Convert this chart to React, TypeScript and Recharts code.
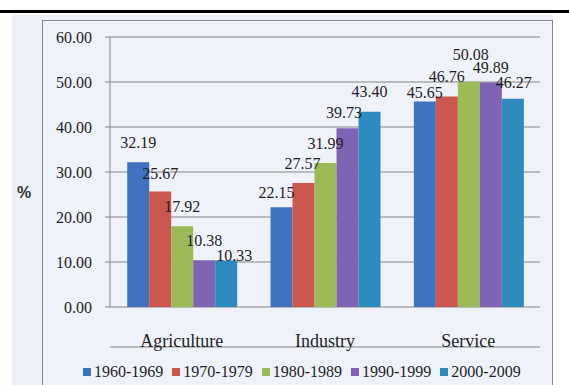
import React from 'react';
import { BarChart, Bar, XAxis, YAxis, CartesianGrid, Legend, LabelList } from 'recharts';

// Sector shares of output (%) by decade
const sectors = ['Agriculture', 'Industry', 'Service'];
const periods = ['1960-1969', '1970-1979', '1980-1989', '1990-1999', '2000-2009'];
const share1960s = [32.19, 22.15, 45.65];
const share1970s = [25.67, 27.57, 46.76];
const share1980s = [17.92, 31.99, 50.08];
const share1990s = [10.38, 39.73, 49.89];
const share2000s = [10.33, 43.4, 46.27];
const yTicks = [0, 10, 20, 30, 40, 50, 60];

const seriesValues = [share1960s, share1970s, share1980s, share1990s, share2000s];
const seriesColors = ['#3f72bf', '#cc574f', '#9cbb58', '#8064b4', '#2f8bbf'];

// Hand-placed data labels: [horizontal shift, lift above bar top] per decade, per sector
const labelNudges: [number, number][][] = [
  [[0, 19.5], [-5, 15], [0, 9]],
  [[0, 17.5], [-1, 19], [0, 20]],
  [[0, 20], [0, 19.5], [2, 27.5]],
  [[0, 19.5], [-3.5, 15.5], [0, 15]],
  [[8, 5], [0, 20], [1, 16]],
];

const data = sectors.map((sector, i) => {
  const row: Record<string, string | number> = { sector };
  periods.forEach((p, j) => {
    row[p] = seriesValues[j][i];
  });
  return row;
});

const SERIF = "'Liberation Serif', 'Times New Roman', serif";
const INK = '#1e1e1e';
const RULE = '#868686';

const makeValueLabel = (seriesIndex: number) => (props: any) => {
  const { x, y, width, value, index } = props;
  const [dx, lift] = labelNudges[seriesIndex][index];
  return (
    <text
      x={Number(x) + Number(width) / 2 + dx}
      y={Number(y) - lift}
      textAnchor="middle"
      dominantBaseline="central"
      fontFamily={SERIF}
      fontSize={16}
      fill={INK}
    >
      {Number(value).toFixed(2)}
    </text>
  );
};

const renderLegend = () => (
  <div style={{ display: 'flex', alignItems: 'center', height: 16 }}>
    {periods.map((p, i) => (
      <div key={p} style={{ display: 'flex', alignItems: 'center', marginRight: i < periods.length - 1 ? 9 : 0 }}>
        <span style={{ width: 8, height: 8, background: seriesColors[i], display: 'inline-block', marginRight: 3 }} />
        <span style={{ fontFamily: SERIF, fontSize: 16, color: INK, lineHeight: '16px', whiteSpace: 'nowrap' }}>{p}</span>
      </div>
    ))}
  </div>
);

const PercentLabel = (props: any) => {
  const vb = props.viewBox || {};
  return (
    <text
      x={24}
      y={Number(vb.y) + Number(vb.height) / 2 + 20}
      textAnchor="middle"
      dominantBaseline="central"
      fontFamily="'Liberation Sans', Arial, sans-serif"
      fontSize={16}
      fontWeight="bold"
      fill="#333"
    >
      %
    </text>
  );
};

export default function App() {
  return (
    <div style={{ position: 'fixed', left: 0, top: 0, width: 569, height: 385, background: '#ffffff', overflow: 'hidden' }}>
      <div style={{ position: 'absolute', left: 0, top: 10, width: 569, height: 3, background: '#000' }} />
      <div style={{ position: 'absolute', left: 12, top: 15, width: 541, height: 370, background: '#eef0f8' }} />
      <div
        style={{
          position: 'absolute',
          left: 42,
          top: 20,
          width: 509,
          height: 380,
          border: `1px solid ${RULE}`,
          background: '#f0f2fa',
        }}
      />
      <div style={{ position: 'absolute', left: 0, top: 0 }}>
        <BarChart
          width={569}
          height={385}
          data={data}
          margin={{ top: 37, right: 29, bottom: 37, left: 0 }}
          barCategoryGap="12%"
          barGap={0}
        >
          <CartesianGrid horizontal vertical={false} stroke={RULE} strokeWidth={1} />
          <XAxis
            xAxisId="edges"
            type="number"
            domain={[0, sectors.length]}
            ticks={[0, 1, 2, 3]}
            allowDataOverflow
            height={1}
            tick={false}
            tickSize={5}
            axisLine={{ stroke: RULE }}
            tickLine={{ stroke: RULE }}
          />
          <XAxis
            dataKey="sector"
            interval={0}
            height={40}
            axisLine={false}
            tickLine={false}
            tickSize={0}
            tickMargin={27}
            tick={{ fill: INK, fontSize: 18, fontFamily: SERIF }}
          />
          <YAxis
            width={110}
            domain={[0, 60]}
            ticks={yTicks}
            tickFormatter={(v: number) => v.toFixed(2)}
            tickSize={5}
            tickMargin={13}
            axisLine={{ stroke: RULE }}
            tickLine={{ stroke: RULE }}
            tick={{ fill: INK, fontSize: 16, fontFamily: SERIF }}
            label={<PercentLabel />}
          />
          <Legend
            content={renderLegend}
            wrapperStyle={{ left: 83, top: 364, width: 480, height: 0 }}
          />
          {periods.map((p, i) => (
            <Bar key={p} dataKey={p} fill={seriesColors[i]} isAnimationActive={false}>
              <LabelList dataKey={p} content={makeValueLabel(i)} />
            </Bar>
          ))}
        </BarChart>
      </div>
    </div>
  );
}
